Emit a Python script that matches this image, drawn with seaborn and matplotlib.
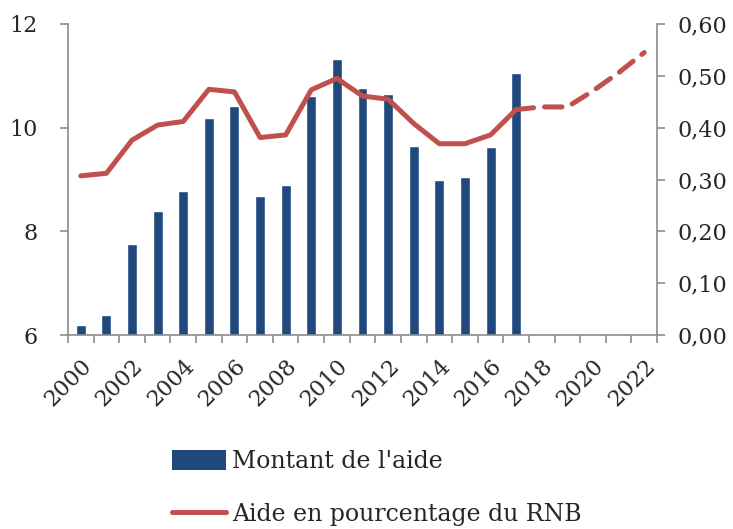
import matplotlib
matplotlib.use("Agg")
import matplotlib.pyplot as plt
import seaborn as sns
import pandas as pd
from matplotlib.patches import Patch
from matplotlib.lines import Line2D
from matplotlib.ticker import FuncFormatter, FixedLocator

years = [str(y) for y in range(2000, 2023)]
aid_years = [str(y) for y in range(2000, 2018)]
aid_amount = [6.19, 6.38, 7.75, 8.39, 8.77, 10.18, 10.42, 8.69, 8.89, 10.62,
              11.33, 10.76, 10.64, 9.65, 8.99, 9.05, 9.63, 11.06]
gni_pct = [0.307, 0.312, 0.376, 0.405, 0.412, 0.474, 0.469, 0.381, 0.386, 0.473,
           0.495, 0.461, 0.455, 0.408, 0.369, 0.369, 0.386, 0.435,
           0.440, 0.440, 0.471, 0.506, 0.545]
n_actual = 18  # solid line through 2017, dashed projection afterwards

sns.set_style("white")
plt.rcParams['font.family'] = ['DejaVu Serif']

BLUE = "#1F497D"
RED = "#C0504D"
GREY = "#8C8C8C"
FS = 17
TFS = 16

fig = plt.figure(figsize=(7.33, 5.29), dpi=100)
ax = fig.add_axes([68/733, 1-335/529, (657-68)/733, (335-24)/529])

df_bar = pd.DataFrame({"year": aid_years, "amount": aid_amount})
sns.barplot(data=df_bar, x="year", y="amount", order=years, color=BLUE,
            saturation=1, width=0.39, ax=ax)
ax.set_ylim(6, 12)
ax.set_xlim(-0.5, len(years) - 0.5)
ax.set_yticks([6, 8, 10, 12])
ax.set_xlabel("")
ax.set_ylabel("")

ax2 = ax.twinx()
df_line = pd.DataFrame({"pos": range(len(years)), "pct": gni_pct})
sns.lineplot(data=df_line.iloc[:n_actual], x="pos", y="pct", color=RED,
             linewidth=3.6, ax=ax2, solid_capstyle="round", solid_joinstyle="round")
sns.lineplot(data=df_line.iloc[n_actual - 1:], x="pos", y="pct", color=RED,
             linewidth=3.6, ax=ax2, dash_capstyle="round")
ax2.lines[-1].set_dashes([3.5, 2.2])
ax2.set_ylim(0, 0.6)
ax2.set_yticks([0, 0.1, 0.2, 0.3, 0.4, 0.5, 0.6])
ax2.yaxis.set_major_formatter(FuncFormatter(lambda v, p: f"{v:.2f}".replace(".", ",")))
ax2.set_xlim(-0.5, len(years) - 0.5)
ax2.set_xlabel("")
ax2.set_ylabel("")

# x ticks: labels every 2 years, tick marks between categories
ax.set_xticks(range(0, len(years), 2))
ax.set_xticklabels(years[::2], rotation=45, ha="right", rotation_mode="anchor", fontsize=TFS)
ax.xaxis.set_minor_locator(FixedLocator([i - 0.5 for i in range(len(years) + 1)]))
ax.tick_params(axis="x", which="major", length=0, pad=14)
ax.tick_params(axis="x", which="minor", length=6, width=1.2, color=GREY, direction="out", bottom=True)
ax.tick_params(axis="y", which="major", length=6, width=1.2, color=GREY, direction="out",
               left=True, labelsize=TFS, pad=16)
ax2.tick_params(axis="y", which="major", length=6, width=1.2, color=GREY, direction="out",
                right=True, labelsize=TFS, pad=8.5)

for a in (ax, ax2):
    a.spines["top"].set_visible(False)
    for s in ("left", "right", "bottom"):
        a.spines[s].set_color(GREY)
        a.spines[s].set_linewidth(1.2)
ax.spines["right"].set_visible(False)
ax2.spines["left"].set_visible(False)
ax2.spines["bottom"].set_visible(False)

handles = [Patch(facecolor=BLUE, edgecolor="none"),
           Line2D([0], [0], color=RED, linewidth=3.6, solid_capstyle="round")]
labels = ["Montant de l'aide", "Aide en pourcentage du RNB"]
fig.legend(handles, labels, loc="upper left", bbox_to_anchor=(172/733, 1-450/529),
           frameon=False, fontsize=FS, handlelength=2.3, handleheight=0.9,
           handletextpad=0.25, labelspacing=1.25, borderpad=0, borderaxespad=0)

fig.savefig("out.png", dpi=100)
